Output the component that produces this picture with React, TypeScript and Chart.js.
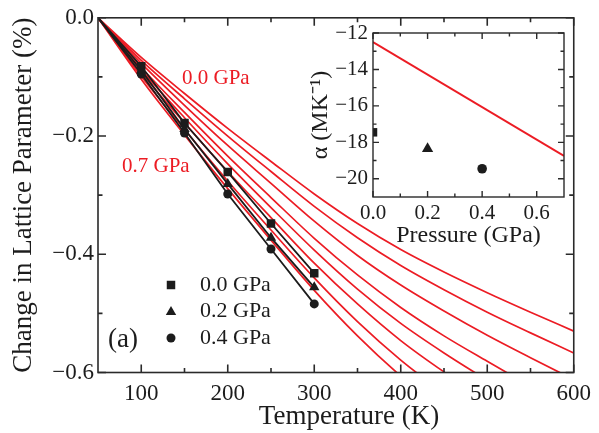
import React, { useEffect, useRef } from 'react';
import { Chart, registerables } from 'chart.js';

Chart.register(...registerables);

// ---------------- data ----------------
const temperatures = [50, 100, 150, 200, 250, 300, 350, 400, 450, 500, 550, 600];
const fit00 = [0, -0.067, -0.128, -0.187, -0.243, -0.298, -0.348, -0.392, -0.430, -0.465, -0.498, -0.530];
const fit01 = [0, -0.072, -0.137, -0.200, -0.260, -0.319, -0.372, -0.419, -0.460, -0.498, -0.533, -0.567];
const fit02 = [0, -0.077, -0.148, -0.216, -0.280, -0.344, -0.402, -0.452, -0.496, -0.537, -0.575, -0.612];
const fit03 = [0, -0.084, -0.160, -0.234, -0.304, -0.373, -0.435, -0.490, -0.538, -0.581, -0.623, -0.663];
const fit04 = [0, -0.088, -0.169, -0.247, -0.321, -0.393, -0.459, -0.517, -0.567, -0.613, -0.657, -0.699];
const fit05 = [0, -0.093, -0.178, -0.260, -0.338, -0.415, -0.484, -0.546, -0.599, -0.647, -0.693, -0.738];
const fit06 = [0, -0.099, -0.189, -0.276, -0.359, -0.440, -0.514, -0.579, -0.635, -0.686, -0.735, -0.782];
const fit07 = [0, -0.104, -0.198, -0.289, -0.376, -0.461, -0.538, -0.606, -0.665, -0.719, -0.770, -0.819];
const fitCurves = [fit00, fit01, fit02, fit03, fit04, fit05, fit06, fit07];

const measTemps = [50, 100, 150, 200, 250, 300];
const meas00 = [0, -0.082, -0.178, -0.261, -0.348, -0.432];
const meas02 = [0, -0.089, -0.188, -0.281, -0.372, -0.456];
const meas04 = [0, -0.095, -0.195, -0.298, -0.391, -0.484];
const measLabels = ['0.0 GPa', '0.2 GPa', '0.4 GPa'];
const curveLabels = ['0.0 GPa', '0.7 GPa'];

const xTicks = [100, 200, 300, 400, 500, 600];
const xMinor = [150, 250, 350, 450, 550];
const yTicks = [0, -0.2, -0.4, -0.6];
const yMinor = [-0.1, -0.3, -0.5];

const insetFitP = [0, 0.7];
const insetFitAlpha = [-12.5, -18.75];
const insetP00 = [0];
const insetA00 = [-17.45];
const insetP02 = [0.2];
const insetA02 = [-18.35];
const insetP04 = [0.4];
const insetA04 = [-19.45];
const insetXTicks = [0, 0.2, 0.4, 0.6];
const insetXMinor = [0.1, 0.3, 0.5];
const insetYTicks = [-12, -14, -16, -18, -20];
const insetYMinor = [-13, -15, -17, -19];

// ---------------- styles ----------------
const SERIF = "'Liberation Serif', 'Times New Roman', serif";
const RED = 'rgb(236,28,36)';
const INK = '#1c1c1c';
const FRAME = '#2a2a2a';

const fmtMinus = (v: number, d: number) => (v < 0 ? '\u2212' : '') + Math.abs(v).toFixed(d);

function pts(xs: number[], ys: number[]) {
  return xs.map((x, i) => ({ x, y: ys[i] }));
}

function drawMarker(ctx: CanvasRenderingContext2D, style: string, x: number, y: number, r: number) {
  ctx.beginPath();
  if (style === 'rect') {
    const s = Math.SQRT1_2 * r;
    ctx.rect(x - s, y - s, 2 * s, 2 * s);
  } else if (style === 'triangle') {
    let a = 0;
    ctx.moveTo(x + Math.sin(a) * r, y - Math.cos(a) * r);
    a += (2 * Math.PI) / 3;
    ctx.lineTo(x + Math.sin(a) * r, y - Math.cos(a) * r);
    a += (2 * Math.PI) / 3;
    ctx.lineTo(x + Math.sin(a) * r, y - Math.cos(a) * r);
    ctx.closePath();
  } else {
    ctx.arc(x, y, r, 0, Math.PI * 2);
  }
  ctx.fill();
}

function framePlugin(id: string, xMaj: number[], xMin: number[], yMaj: number[], yMin: number[], lMaj: number, lMin: number, lw: number) {
  return {
    id,
    afterDatasetsDraw(chart: any) {
      const { ctx, chartArea: a, scales } = chart;
      const xs = scales.x;
      const ys = scales.y;
      ctx.save();
      ctx.strokeStyle = FRAME;
      ctx.lineWidth = lw;
      ctx.strokeRect(a.left, a.top, a.right - a.left, a.bottom - a.top);
      ctx.beginPath();
      const vx = (vals: number[], len: number) => {
        vals.forEach((v) => {
          const px = xs.getPixelForValue(v);
          ctx.moveTo(px, a.bottom);
          ctx.lineTo(px, a.bottom - len);
          ctx.moveTo(px, a.top);
          ctx.lineTo(px, a.top + len);
        });
      };
      const vy = (vals: number[], len: number) => {
        vals.forEach((v) => {
          const py = ys.getPixelForValue(v);
          ctx.moveTo(a.left, py);
          ctx.lineTo(a.left + len, py);
          ctx.moveTo(a.right, py);
          ctx.lineTo(a.right - len, py);
        });
      };
      vx(xMaj, lMaj);
      vx(xMin, lMin);
      vy(yMaj, lMaj);
      vy(yMin, lMin);
      ctx.stroke();
      ctx.restore();
    },
  };
}

const annotationsPlugin = {
  id: 'mainAnnotations',
  afterDraw(chart: any) {
    const { ctx } = chart;
    ctx.save();
    // red curve labels
    ctx.fillStyle = RED;
    ctx.font = `21px ${SERIF}`;
    ctx.textBaseline = 'middle';
    ctx.textAlign = 'left';
    ctx.fillText(curveLabels[0], 182, 78);
    ctx.fillText(curveLabels[1], 122, 166);
    // legend
    ctx.fillStyle = INK;
    const styles = ['rect', 'triangle', 'circle'];
    const radii = [6, 6, 4.5];
    const ly = [285, 311, 338];
    styles.forEach((s, i) => {
      drawMarker(ctx, s, 171, ly[i] + (s === 'triangle' ? 1 : 0), radii[i]);
      ctx.font = `22px ${SERIF}`;
      ctx.fillText(measLabels[i], 200, ly[i]);
    });
    ctx.font = `27px ${SERIF}`;
    ctx.fillText('(a)', 108, 340);
    // x title
    ctx.textAlign = 'center';
    ctx.font = `27px ${SERIF}`;
    ctx.fillText('Temperature (K)', 349, 417);
    ctx.restore();
  },
};

export default function App() {
  const mainRef = useRef<HTMLCanvasElement>(null);
  const insetRef = useRef<HTMLCanvasElement>(null);

  useEffect(() => {
    const redSets = fitCurves.map((c, i) => ({
      label: `fit ${i}`,
      data: pts(temperatures, c),
      borderColor: RED,
      backgroundColor: RED,
      borderWidth: 1.7,
      pointRadius: 0,
      cubicInterpolationMode: 'monotone' as const,
      order: 2,
    }));
    const blackSet = (ys: number[], style: string, r: number, label: string) => ({
      label,
      data: pts(measTemps, ys),
      borderColor: INK,
      backgroundColor: INK,
      borderWidth: 1.8,
      pointStyle: style,
      pointRadius: measTemps.map((_, i) => (i === 0 ? 0 : r)),
      pointBorderWidth: 0,
      order: 1,
    });

    const main = new Chart(mainRef.current!, {
      type: 'line',
      data: {
        datasets: [
          blackSet(meas00, 'rect', 6, measLabels[0]),
          blackSet(meas02, 'triangle', 6, measLabels[1]),
          blackSet(meas04, 'circle', 4.5, measLabels[2]),
          ...redSets,
        ] as any,
      },
      options: {
        responsive: false,
        animation: false,
        devicePixelRatio: 1,
        layout: { padding: { left: 0, top: 15.5, right: 21.5, bottom: 0 } },
        plugins: { legend: { display: false }, tooltip: { enabled: false } },
        scales: {
          x: {
            type: 'linear',
            min: 50,
            max: 600,
            afterBuildTicks: (s: any) => {
              s.ticks = xTicks.map((v) => ({ value: v }));
            },
            afterFit: (s: any) => {
              s.height = 60.5;
            },
            grid: { display: false, drawTicks: false },
            border: { display: false },
            ticks: {
              autoSkip: false,
              maxRotation: 0,
              padding: 8,
              color: INK,
              font: { family: SERIF, size: 23 },
              callback: (v: any) => String(v),
            },
          },
          y: {
            type: 'linear',
            min: -0.6,
            max: 0,
            afterBuildTicks: (s: any) => {
              s.ticks = yTicks.map((v) => ({ value: v }));
            },
            afterFit: (s: any) => {
              s.width = 98;
            },
            grid: { display: false, drawTicks: false },
            border: { display: false },
            ticks: {
              autoSkip: false,
              padding: 4,
              color: INK,
              font: { family: SERIF, size: 23 },
              callback: (v: any) => fmtMinus(Number(v), 1),
            },
            title: {
              display: true,
              text: 'Change in Lattice Parameter (%)',
              color: INK,
              font: { family: SERIF, size: 27 },
              padding: { top: 8, bottom: 0 },
            },
          },
        },
      } as any,
      plugins: [framePlugin('mainFrame', xTicks, xMinor, yTicks, yMinor, 8, 4.5, 1.6), annotationsPlugin],
    });

    const inset = new Chart(insetRef.current!, {
      type: 'line',
      data: {
        datasets: [
          { label: '0.0 GPa', data: pts(insetP00, insetA00), showLine: false, pointStyle: 'rect', pointRadius: 6, pointBorderWidth: 0, backgroundColor: INK, borderColor: INK },
          { label: '0.2 GPa', data: pts(insetP02, insetA02), showLine: false, pointStyle: 'triangle', pointRadius: 6.5, pointBorderWidth: 0, backgroundColor: INK, borderColor: INK },
          { label: '0.4 GPa', data: pts(insetP04, insetA04), showLine: false, pointStyle: 'circle', pointRadius: 4.8, pointBorderWidth: 0, backgroundColor: INK, borderColor: INK },
          { label: 'fit', data: pts(insetFitP, insetFitAlpha), borderColor: RED, backgroundColor: RED, borderWidth: 2, pointRadius: 0 },
        ] as any,
      },
      options: {
        responsive: false,
        animation: false,
        devicePixelRatio: 1,
        layout: { padding: { left: 0, top: 33, right: 16, bottom: 0 } },
        plugins: { legend: { display: false }, tooltip: { enabled: false } },
        scales: {
          x: {
            type: 'linear',
            min: 0,
            max: 0.7,
            afterBuildTicks: (s: any) => {
              s.ticks = insetXTicks.map((v) => ({ value: v }));
            },
            afterFit: (s: any) => {
              s.height = 63;
            },
            grid: { display: false, drawTicks: false },
            border: { display: false },
            ticks: {
              autoSkip: false,
              maxRotation: 0,
              padding: 4,
              color: INK,
              font: { family: SERIF, size: 21 },
              callback: (v: any) => Number(v).toFixed(1),
            },
            title: {
              display: true,
              text: 'Pressure (GPa)',
              color: INK,
              font: { family: SERIF, size: 24 },
              padding: { top: 0, bottom: 10 },
            },
          },
          y: {
            type: 'linear',
            min: -21,
            max: -12,
            afterBuildTicks: (s: any) => {
              s.ticks = insetYTicks.map((v) => ({ value: v }));
            },
            afterFit: (s: any) => {
              s.width = 83;
            },
            grid: { display: false, drawTicks: false },
            border: { display: false },
            ticks: {
              autoSkip: false,
              padding: 5,
              color: INK,
              font: { family: SERIF, size: 21 },
              callback: (v: any) => fmtMinus(Number(v), 0),
            },
            title: {
              display: true,
              text: '\u03b1 (MK\u207b\u00b9)',
              color: INK,
              font: { family: SERIF, size: 24 },
              padding: { top: 16, bottom: 0 },
            },
          },
        },
      } as any,
      plugins: [framePlugin('insetFrame', insetXTicks, insetXMinor, insetYTicks, insetYMinor, 6, 3.5, 1.4)],
    });

    return () => {
      main.destroy();
      inset.destroy();
    };
  }, []);

  return (
    <div style={{ position: 'fixed', left: 0, top: 0, width: 599, height: 433, background: '#fff' }}>
      <canvas ref={mainRef} width={599} height={433} style={{ position: 'absolute', left: 0, top: 0 }} />
      <canvas ref={insetRef} width={290} height={260} style={{ position: 'absolute', left: 290, top: 0 }} />
    </div>
  );
}
